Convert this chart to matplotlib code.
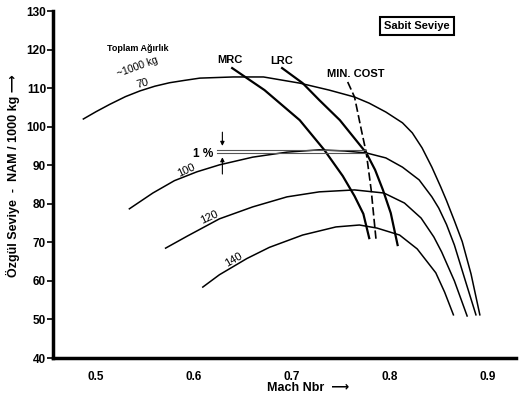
import matplotlib
matplotlib.use('Agg')
import matplotlib.pyplot as plt

# Weight curves (total weight, 1000 kg): Mach number vs specific range
mach_70 = [0.487, 0.500, 0.514, 0.530, 0.545, 0.560, 0.575, 0.590, 0.606, 0.640, 0.671,
           0.708, 0.738, 0.764, 0.779, 0.796, 0.813, 0.823, 0.833, 0.843, 0.852, 0.858,
           0.866, 0.874, 0.883, 0.892]
nam_70 = [102.0, 103.9, 105.8, 107.8, 109.3, 110.5, 111.4, 112.0, 112.6, 112.9, 112.9,
          111.3, 109.5, 107.7, 106.1, 103.8, 101.0, 98.4, 94.5, 89.5, 84.4, 80.8,
          75.6, 70.2, 61.8, 51.2]

mach_100 = [0.534, 0.558, 0.580, 0.603, 0.626, 0.660, 0.695, 0.728, 0.754, 0.776, 0.796,
            0.813, 0.830, 0.843, 0.850, 0.858, 0.866, 0.877, 0.888]
nam_100 = [78.7, 82.8, 86.0, 88.3, 90.1, 92.1, 93.4, 94.0, 93.7, 93.2, 91.9,
           89.5, 86.2, 81.8, 78.9, 74.6, 69.3, 60.2, 51.2]

mach_120 = [0.571, 0.593, 0.626, 0.660, 0.695, 0.728, 0.764, 0.794, 0.815, 0.832, 0.845,
            0.853, 0.866, 0.879]
nam_120 = [68.5, 71.6, 76.1, 79.2, 81.8, 83.1, 83.6, 82.8, 80.2, 76.3, 71.4,
           67.5, 60.0, 50.9]

mach_140 = [0.609, 0.626, 0.654, 0.677, 0.711, 0.745, 0.769, 0.787, 0.810, 0.828, 0.847,
            0.856, 0.865]
nam_140 = [58.4, 61.6, 65.8, 68.7, 71.9, 74.0, 74.5, 73.7, 71.9, 68.3, 62.1,
           57.1, 51.2]

weights = ['70', '100', '120', '140']

# Cruise lines
mach_mrc = [0.639, 0.672, 0.708, 0.733, 0.752, 0.764, 0.773, 0.779]
nam_mrc = [115.2, 109.5, 101.7, 94.0, 87.2, 82.0, 77.4, 71.1]

mach_lrc = [0.690, 0.711, 0.728, 0.749, 0.776, 0.785, 0.793, 0.801, 0.808]
nam_lrc = [115.2, 111.3, 106.9, 101.7, 93.2, 88.8, 83.6, 77.6, 69.3]

mach_cost = [0.757, 0.764, 0.771, 0.776, 0.781, 0.786]
nam_cost = [111.6, 107.7, 99.1, 93.2, 83.6, 70.6]

# 1 % band on the 100 t curve
band_levels = [94.0, 93.1]
band_mach = [0.624, 0.776]

x_ticks = [0.5, 0.6, 0.7, 0.8, 0.9]
y_ticks = [40, 50, 60, 70, 80, 90, 100, 110, 120, 130]

FONT = ['Liberation Sans', 'DejaVu Sans']
plt.rcParams['font.family'] = FONT
plt.rcParams['font.weight'] = 'bold'

fig = plt.figure(figsize=(5.28, 3.97), dpi=100)
ax = fig.add_axes([0.1004, 0.0982, 0.877, 0.874])

for m, v in zip([mach_70, mach_100, mach_120, mach_140], [nam_70, nam_100, nam_120, nam_140]):
    ax.plot(m, v, color='black', linewidth=1.1, solid_joinstyle='round')

ax.plot(mach_mrc, nam_mrc, color='black', linewidth=1.6, solid_joinstyle='round')
ax.plot(mach_lrc, nam_lrc, color='black', linewidth=1.6, solid_joinstyle='round')
ax.plot(mach_cost, nam_cost, color='black', linewidth=1.2, linestyle=(0, (5, 2)))

for lvl in band_levels:
    ax.plot(band_mach, [lvl, lvl], color='#555555', linewidth=0.8)

# 1 % arrows
ax.annotate('', xy=(0.629, band_levels[0] + 0.3), xytext=(0.629, 99.3),
            arrowprops=dict(arrowstyle='-|>', color='black', lw=0.8, mutation_scale=6))
ax.annotate('', xy=(0.629, band_levels[1] - 0.3), xytext=(0.629, 87.0),
            arrowprops=dict(arrowstyle='-|>', color='black', lw=0.8, mutation_scale=6))
ax.text(0.609, 93.0, '1 %', fontsize=8.5, ha='center', va='center')

# curve labels
label_pos = [(0.547, 111.2, 15), (0.592, 88.8, 25), (0.616, 76.5, 25), (0.640, 65.6, 30)]
for w, (lx, ly, rot) in zip(weights, label_pos):
    ax.text(lx, ly, w, fontsize=8, ha='center', va='center', rotation=rot, fontweight='normal')

ax.text(0.543, 120.4, 'Toplam Ağırlık', fontsize=6.5, ha='center', va='center')
ax.text(0.542, 115.5, '~1000 kg', fontsize=7.5, ha='center', va='center', rotation=20,
        fontweight='normal')
ax.text(0.637, 117.3, 'MRC', fontsize=8, ha='center', va='center')
ax.text(0.690, 117.1, 'LRC', fontsize=8, ha='center', va='center')
ax.text(0.765, 113.7, 'MIN. COST', fontsize=8, ha='center', va='center')

ax.text(0.828, 126.1, 'Sabit Seviye', fontsize=8, ha='center', va='center',
        bbox=dict(boxstyle='square,pad=0.35', facecolor='white', edgecolor='black', linewidth=1.5))

ax.set_xlim(0.456, 0.929)
ax.set_ylim(40, 130)
ax.set_xticks(x_ticks)
ax.set_xticklabels([f'{t:g}' for t in x_ticks])
ax.set_yticks(y_ticks)
ax.tick_params(axis='x', length=0, pad=9, labelsize=8.5)
ax.tick_params(axis='y', length=4, width=1.2, pad=1, labelsize=8.5)

for side in ['top', 'right']:
    ax.spines[side].set_visible(False)
for side in ['left', 'bottom']:
    ax.spines[side].set_linewidth(2.5)

fig.text(0.024, 0.557, 'Özgül Seviye  -  NAM / 1000 kg ⟶', rotation=90, fontsize=9,
         ha='center', va='center', family=FONT)
fig.text(0.506, 0.023, 'Mach Nbr  ⟶', fontsize=9, ha='left', va='center', family=FONT)

fig.savefig('out.png', dpi=100)
